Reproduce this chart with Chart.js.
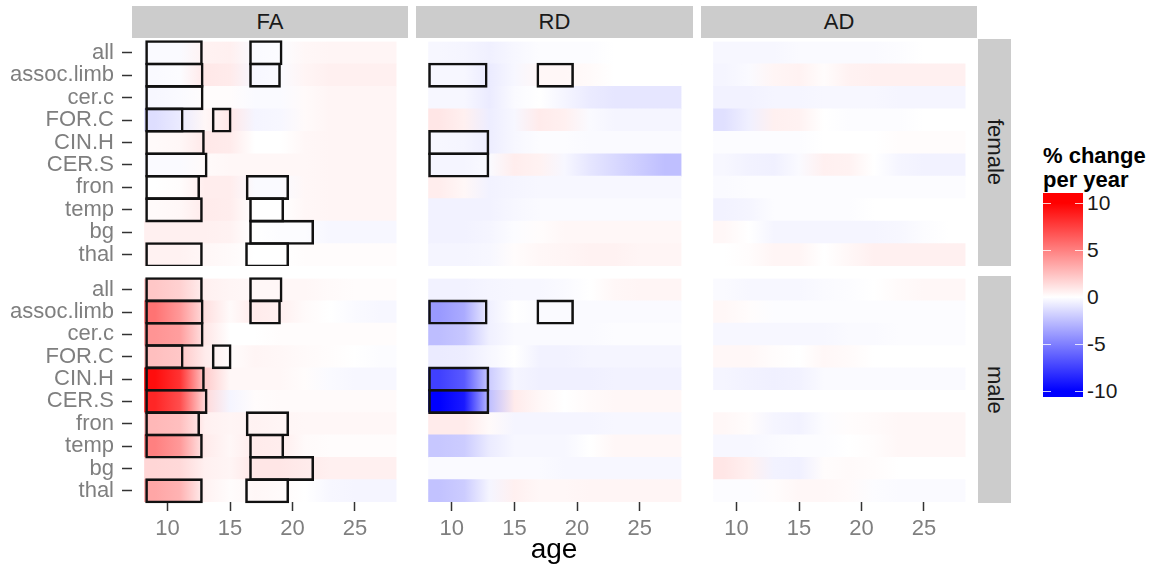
<!DOCTYPE html>
<html>
<head>
<meta charset="utf-8">
<script src="https://cdn.jsdelivr.net/npm/chart.js@4.4.1/dist/chart.umd.min.js"></script>
<style>
  body { margin: 0; width: 1152px; height: 573px; background: #fff; position: relative; overflow: hidden;
         font-family: "Liberation Sans", Arial, sans-serif; }
  canvas, .strip, .txt { position: absolute; }
  .strip { background: #cccccc; color: #1a1a1a; font-size: 22px; display: flex; align-items: center; justify-content: center; }
  .side { writing-mode: vertical-rl; }
</style>
</head>
<body>
<div class="strip" style="left:132px;top:6px;width:276px;height:32px">FA</div>
<div class="strip" style="left:416px;top:6px;width:277px;height:32px">RD</div>
<div class="strip" style="left:701px;top:6px;width:276px;height:32px">AD</div>
<div class="strip side" style="left:978px;top:39px;width:33px;height:227px">female</div>
<div class="strip side" style="left:978px;top:276px;width:33px;height:227px">male</div>

<canvas id="faF" width="408" height="227" style="left:0;top:39px"></canvas>
<canvas id="rdF" width="277" height="227" style="left:416px;top:39px"></canvas>
<canvas id="adF" width="276" height="227" style="left:701px;top:39px"></canvas>
<canvas id="faM" width="408" height="277" style="left:0;top:276px"></canvas>
<canvas id="rdM" width="277" height="277" style="left:416px;top:276px"></canvas>
<canvas id="adM" width="276" height="277" style="left:701px;top:276px"></canvas>

<div class="txt" style="left:454px;top:533px;width:200px;text-align:center;font-size:28px;color:#000">age</div>

<div class="txt" style="left:1043px;top:144px;font-size:22px;font-weight:bold;line-height:24px;color:#000">% change<br>per year</div>
<div id="bar" class="txt" style="left:1043px;top:193px;width:40px;height:204px"></div>
<div id="legendLabels"></div>

<script>
"use strict";

Chart.defaults.font.family = '"Liberation Sans", Arial, sans-serif';

var regions = ['all', 'assoc.limb', 'cer.c', 'FOR.C', 'CIN.H', 'CER.S', 'fron', 'temp', 'bg', 'thal'];
var ages = [9, 11, 13, 15, 17, 19, 21, 23, 25, 27];
var ageTicks = [10, 15, 20, 25];
var ageSpan = [8.15, 28.3];
var legendTicks = [10, 5, 0, -5, -10];

// % change per year, one row per region, one value per entry of ages
var faFemale = [
	[-0.2, -0.2, 0.5, 0.6, -0.2, -0.1, 0.3, 0.4, 0.4, 0.4],
	[-0.2, -0.1, 0.9, 0.8, -0.3, -0.2, 0.4, 0.6, 0.6, 0.6],
	[-0.3, -0.2, 0.1, 0.1, -0.2, -0.2, 0.2, 0.4, 0.4, 0.4],
	[-1.3, -0.8, 0.3, 0.9, -0.4, -0.3, 0.2, 0.4, 0.4, 0.4],
	[0.2, 0.3, 0.9, 0.8, 0.0, 0.0, 0.3, 0.4, 0.4, 0.4],
	[-0.2, -0.2, 0.2, 0.3, 0.3, 0.3, 0.3, 0.4, 0.4, 0.4],
	[0.0, 0.1, 0.7, 0.7, -0.2, -0.2, 0.3, 0.4, 0.4, 0.4],
	[0.2, 0.3, 0.8, 0.7, 0.0, 0.0, 0.3, 0.4, 0.4, 0.4],
	[0.6, 0.6, 0.6, 0.5, 0.0, -0.1, -0.1, -0.3, -0.3, -0.3],
	[0.5, 0.5, 0.3, 0.2, 0.0, 0.0, 0.1, 0.1, 0.1, 0.1]
];
var faMale = [
	[2.2, 1.8, 0.6, 0.4, 0.3, 0.3, 0.3, 0.2, 0.1, 0.1],
	[5.5, 4.0, 1.2, 0.2, 0.8, 0.6, 0.2, 0.0, -0.2, -0.3],
	[4.2, 3.8, 1.0, 0.0, 0.0, 0.1, 0.1, 0.1, 0.1, 0.1],
	[2.5, 2.2, 0.8, 0.1, 0.4, 0.3, 0.2, 0.1, 0.0, -0.1],
	[9.5, 8.0, 2.0, 0.3, 0.3, 0.3, 0.1, -0.2, -0.3, -0.3],
	[8.5, 7.0, 1.5, -0.4, 0.1, 0.2, 0.2, 0.2, 0.2, 0.2],
	[2.8, 2.5, 0.6, 0.4, 0.5, 0.4, 0.3, 0.3, 0.3, 0.3],
	[5.0, 4.0, 0.8, 0.3, 0.8, 0.7, 0.2, 0.1, 0.1, 0.1],
	[1.6, 1.5, 0.6, 0.4, 1.0, 1.0, 0.8, 0.6, 0.6, 0.6],
	[3.5, 3.0, 0.5, 0.1, 0.3, 0.2, 0.0, -0.3, -0.4, -0.4]
];
var rdFemale = [
	[-0.3, -0.4, -0.6, -0.3, -0.1, -0.1, -0.1, 0.0, 0.0, 0.0],
	[-0.3, -0.3, -0.8, -0.3, 0.3, 0.3, 0.2, 0.0, 0.0, 0.0],
	[-0.3, -0.3, -0.8, -0.2, 0.0, -0.4, -0.8, -1.0, -1.0, -1.0],
	[1.0, 0.6, -0.7, -0.3, 0.8, 0.6, -0.2, -0.4, -0.4, -0.4],
	[-0.3, -0.4, -0.7, -0.3, -0.1, -0.1, -0.2, -0.2, -0.2, -0.2],
	[-0.4, -0.4, -0.2, 0.7, 0.5, -0.3, -1.0, -1.5, -2.0, -2.5],
	[0.7, 0.3, -0.5, -0.4, -0.3, -0.3, -0.3, -0.3, -0.3, -0.3],
	[-0.5, -0.5, -0.5, -0.3, -0.2, -0.2, -0.2, -0.2, -0.2, -0.2],
	[-0.5, -0.5, -0.4, -0.1, 0.1, 0.3, 0.3, 0.3, 0.3, 0.3],
	[-0.4, -0.4, -0.3, 0.1, 0.3, 0.4, 0.5, 0.5, 0.4, 0.4]
];
var rdMale = [
	[-0.5, -0.5, -0.4, -0.3, -0.3, -0.2, 0.0, 0.3, 0.4, 0.4],
	[-4.0, -3.3, -0.6, 0.0, -0.2, -0.2, -0.2, -0.2, -0.2, -0.2],
	[-2.6, -2.2, -0.6, -0.2, -0.2, -0.2, -0.2, -0.1, -0.1, -0.1],
	[-0.8, -0.7, -0.3, 0.0, -0.5, -0.5, -0.4, -0.4, -0.4, -0.4],
	[-7.5, -6.5, -2.0, -0.4, -0.6, -0.6, -0.6, -0.5, -0.5, -0.5],
	[-10, -9.0, -2.5, 0.8, 0.3, 0.0, 0.2, 0.3, 0.3, 0.3],
	[0.8, 0.8, 0.2, -0.4, -0.4, -0.4, -0.4, -0.3, -0.3, -0.3],
	[-2.2, -2.0, -0.8, -0.3, -0.3, -0.3, 0.0, 0.3, 0.3, 0.3],
	[-0.2, -0.2, -0.2, -0.2, -0.2, -0.3, -0.3, -0.3, -0.3, -0.3],
	[-2.4, -2.0, -0.4, 0.6, 0.3, 0.3, 0.4, 0.4, 0.4, 0.4]
];
var adFemale = [
	[-0.3, -0.3, -0.3, -0.2, -0.2, -0.2, -0.2, -0.1, 0.0, 0.0],
	[-0.4, -0.2, 0.4, 0.5, 0.1, 0.5, 0.6, 0.6, 0.6, 0.6],
	[-0.5, -0.5, -0.4, -0.4, -0.3, -0.3, -0.3, -0.4, -0.4, -0.4],
	[-1.2, -0.6, 0.6, 0.5, 0.0, -0.1, -0.1, -0.1, 0.0, 0.0],
	[-0.1, -0.1, -0.1, -0.1, 0.0, 0.0, 0.0, 0.1, 0.1, 0.1],
	[-0.3, -0.5, -0.6, -0.2, 0.6, 0.5, 0.0, -0.4, -0.5, -0.5],
	[-0.2, -0.1, -0.1, -0.1, -0.1, -0.1, -0.1, -0.1, -0.1, -0.1],
	[-0.5, -0.4, -0.1, -0.1, -0.1, -0.1, 0.0, 0.0, 0.0, 0.0],
	[0.3, 0.0, -0.4, -0.4, -0.4, -0.4, -0.4, -0.3, -0.1, 0.0],
	[0.0, 0.1, 0.4, 0.4, 0.0, 0.3, 0.6, 0.6, 0.6, 0.6]
];
var adMale = [
	[-0.2, -0.3, -0.3, -0.3, -0.2, -0.1, 0.0, 0.2, 0.3, 0.3],
	[0.3, 0.1, -0.1, -0.1, -0.1, -0.1, -0.1, -0.1, -0.1, -0.1],
	[-0.3, -0.3, -0.3, -0.3, -0.3, -0.2, -0.2, -0.1, -0.1, -0.1],
	[0.3, 0.3, 0.1, 0.0, 0.3, 0.2, 0.0, 0.0, 0.0, 0.0],
	[-0.4, -0.5, -0.6, -0.5, -0.2, -0.2, -0.2, -0.2, -0.2, -0.2],
	[0.0, 0.0, 0.0, 0.0, 0.0, 0.0, 0.0, 0.0, 0.0, 0.0],
	[0.3, 0.1, -0.4, -0.5, -0.1, 0.1, 0.2, 0.3, 0.3, 0.3],
	[-0.3, -0.3, -0.2, -0.1, -0.1, 0.0, 0.1, 0.3, 0.3, 0.3],
	[1.0, 0.6, -0.5, -0.6, 0.1, 0.2, 0.1, 0.0, 0.0, 0.0],
	[-0.1, -0.1, 0.1, 0.3, 0.3, 0.2, -0.1, -0.2, -0.2, -0.2]
];

// significant age windows (black boxes), same for both sexes
var faSig1 = [[8.21, 12.82], [8.21, 12.88], [8.21, 12.88], [8.21, 11.28], [8.21, 12.98],
	[8.21, 13.2], [8.21, 12.6], [8.21, 12.82], null, [8.21, 12.82]];
var faSig2 = [[16.53, 19.2], [16.53, 19.07], null, [13.54, 15.12], null,
	null, [16.26, 19.73], [16.53, 19.33], [16.53, 21.73], [16.21, 19.73]];
var rdSig1 = [null, [8.12, 12.86], null, null, [8.12, 13.0], [8.12, 13.0], null, null, null, null];
var rdSig2 = [null, [16.76, 19.75], null, null, null, null, null, null, null, null];

function fillColor(v) {
	var f = Math.min(Math.abs(v) / 10, 1);
	var c = Math.round(255 * (1 - f));
	return v >= 0 ? 'rgb(255,' + c + ',' + c + ')' : 'rgb(' + c + ',' + c + ',255)';
}

function heatFill(context, values) {
	var chart = context.chart;
	if (!chart.chartArea || context.dataIndex === undefined) return '#ffffff';
	var xs = chart.scales.x;
	var row = values[context.dataIndex];
	var g = chart.ctx.createLinearGradient(xs.getPixelForValue(ages[0]), 0, xs.getPixelForValue(ages[ages.length - 1]), 0);
	row.forEach(function (v, i) {
		g.addColorStop(i / (row.length - 1), fillColor(v));
	});
	return g;
}

function makePanel(canvasId, values, boxes, showY, showX) {
	var datasets = boxes.map(function (b) {
		return {
			data: b,
			backgroundColor: 'rgba(0,0,0,0)',
			borderColor: '#111111',
			borderWidth: 2.6,
			borderSkipped: false,
			barPercentage: 1.116,
			categoryPercentage: 1,
			grouped: false,
			clip: false,
			order: 0
		};
	});
	datasets.push({
		data: regions.map(function () { return ageSpan; }),
		backgroundColor: function (c) { return heatFill(c, values); },
		borderWidth: 0,
		barPercentage: 1,
		categoryPercentage: 1,
		grouped: false,
		order: 1
	});

	new Chart(document.getElementById(canvasId), {
		type: 'bar',
		data: { labels: regions, datasets: datasets },
		options: {
			indexAxis: 'y',
			responsive: false,
			animation: false,
			events: [],
			layout: { autoPadding: false, padding: { top: 2.5, bottom: 0, left: 0, right: 0 } },
			plugins: { legend: { display: false }, tooltip: { enabled: false } },
			scales: {
				x: {
					type: 'linear',
					min: 7.15,
					max: 29.25,
					display: showX,
					afterBuildTicks: function (s) { s.ticks = ageTicks.map(function (v) { return { value: v }; }); },
					afterFit: function (s) {
						if (showX) s.height = 51;
						s.paddingLeft = 0; s.paddingRight = 0;
					},
					border: { display: false },
					grid: { drawOnChartArea: false, tickLength: 9, tickColor: '#333333', tickWidth: 1.5 },
					ticks: { color: '#7f7f7f', font: { size: 22 }, padding: 5, maxRotation: 0 }
				},
				y: {
					type: 'category',
					offset: true,
					display: showY,
					afterFit: function (s) {
						if (showY) s.width = 132;
						s.paddingTop = 0; s.paddingBottom = 0;
					},
					border: { display: false },
					grid: { offset: false, drawOnChartArea: false, tickLength: 10, tickColor: '#333333', tickWidth: 1.5 },
					ticks: { color: '#7f7f7f', font: { size: 22 }, padding: 8, autoSkip: false }
				}
			}
		}
	});
}

makePanel('faF', faFemale, [faSig1, faSig2], true, false);
makePanel('rdF', rdFemale, [rdSig1, rdSig2], false, false);
makePanel('adF', adFemale, [], false, false);
makePanel('faM', faMale, [faSig1, faSig2], true, true);
makePanel('rdM', rdMale, [rdSig1, rdSig2], false, true);
makePanel('adM', adMale, [], false, true);

// colour bar legend
function legendY(v) { return 297 - v * 9.4; }
var barTop = 193;
var bar = document.getElementById('bar');
bar.style.background = 'linear-gradient(to bottom, ' +
	fillColor(10) + ' ' + (legendY(10) - barTop) + 'px, ' +
	fillColor(0) + ' ' + (legendY(0) - barTop) + 'px, ' +
	fillColor(-10) + ' ' + (legendY(-10) - barTop) + 'px)';
var labelsDiv = document.getElementById('legendLabels');
legendTicks.forEach(function (v) {
	var y = legendY(v);
	var lab = document.createElement('div');
	lab.className = 'txt';
	lab.style.cssText = 'left:1087px;top:' + (y - 12) + 'px;line-height:24px;font-size:21px;color:#1a1a1a';
	lab.textContent = String(v);
	labelsDiv.appendChild(lab);
	[1043, 1075].forEach(function (x) {
		var t = document.createElement('div');
		t.className = 'txt';
		t.style.cssText = 'left:' + x + 'px;top:' + (y - 0.5) + 'px;width:8px;height:1px;background:rgba(255,255,255,0.8)';
		labelsDiv.appendChild(t);
	});
});
</script>
</body>
</html>
